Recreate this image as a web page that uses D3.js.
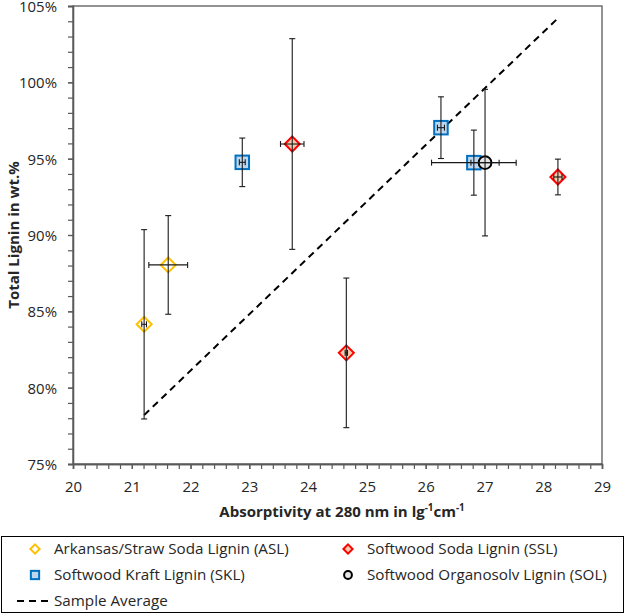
<!DOCTYPE html>
<html><head><meta charset="utf-8">
<script src="https://cdn.jsdelivr.net/npm/d3@7"></script>
<style>
body{margin:0;background:#fff;}
text{font-family:"Open Sans",Lato,sans-serif;fill:#262626;}
</style></head>
<body><svg id="c" width="625" height="614"></svg>
<script>
// ---- data ----
const xTicks = [20,21,22,23,24,25,26,27,28,29];
const yTicks = [75,80,85,90,95,100,105];
const aslX = [21.21, 21.62], aslY = [84.15, 88.04], aslXErr = [0.04, 0.33], aslYErr = [6.2, 3.23];
const sklX = [22.88, 26.26, 26.82], sklY = [94.76, 97.03, 94.74], sklXErr = [0.05, 0.06, 0.72], sklYErr = [1.59, 2.02, 2.13];
const sslX = [23.73, 24.65, 28.25], sslY = [95.96, 82.28, 93.8], sslXErr = [0.2, 0.02, 0.07], sslYErr = [6.9, 4.9, 1.17];
const solX = [27.01], solY = [94.74], solXErr = [0.24], solYErr = [4.8];
const avgX = [21.21, 28.25], avgY = [78.2, 104.2];
const legendLabels = ["Arkansas/Straw Soda Lignin (ASL)", "Softwood Soda Lignin (SSL)", "Softwood Kraft Lignin (SKL)", "Softwood Organosolv Lignin (SOL)", "Sample Average"];

const series = [
  {key:"ASL", xs:aslX, ys:aslY, xe:aslXErr, ye:aslYErr, shape:"diamond", stroke:"#FFC000", fill:"#FFFFFF"},
  {key:"SKL", xs:sklX, ys:sklY, xe:sklXErr, ye:sklYErr, shape:"square", stroke:"#0070C0", fill:"#BDD7EE"},
  {key:"SSL", xs:sslX, ys:sslY, xe:sslXErr, ye:sslYErr, shape:"diamond", stroke:"#FF0000", fill:"#F8CBAD"},
  {key:"SOL", xs:solX, ys:solY, xe:solXErr, ye:solYErr, shape:"circle", stroke:"#000000", fill:"#E7E6E6"}
];

const svg = d3.select("#c");
const L=73, R=602, T=6, B=464;
const x = d3.scaleLinear().domain([20,29]).range([L,R]);
const y = d3.scaleLinear().domain([75,105]).range([B,T]);

// font size fitted to a target width
function fitSize(text, weight, target){
  const t = svg.append("text").attr("font-size",20).attr("font-weight",weight).text(text);
  const w = t.node().getComputedTextLength(); t.remove();
  return 20*target/w;
}
const tickFs = fitSize("105%","normal",38);
const legFs = fitSize(legendLabels[0],"normal",235);
const titleFs = fitSize("Absorptivity at 280 nm in lg-1cm-1","bold",255);

// plot border
svg.append("rect").attr("x",L).attr("y",T).attr("width",R-L).attr("height",B-T)
  .attr("fill","none").attr("stroke","#595959").attr("stroke-width",1.3);

// minor ticks
const xMinor = d3.range(20,29.001,0.2);
const yMinor = d3.range(75,105.001,1);
const gx = svg.append("g").attr("transform",`translate(0,${B})`)
  .call(d3.axisBottom(x).tickValues(xMinor).tickSize(5).tickFormat(""));
const gy = svg.append("g").attr("transform",`translate(${L},0)`)
  .call(d3.axisLeft(y).tickValues(yMinor).tickSize(5).tickFormat(""));
const gx2 = svg.append("g").attr("transform",`translate(0,${B})`)
  .call(d3.axisBottom(x).tickValues(xTicks).tickSize(5).tickPadding(12).tickFormat(d=>d));
const gy2 = svg.append("g").attr("transform",`translate(${L},0)`)
  .call(d3.axisLeft(y).tickValues(yTicks).tickSize(5).tickPadding(11).tickFormat(d=>d+"%"));
[gx,gy,gx2,gy2].forEach(g=>{
  g.selectAll(".domain").attr("stroke","#595959").attr("stroke-width",1.3);
  g.selectAll(".tick line").attr("stroke","#595959").attr("stroke-width",1.2);
  g.selectAll("text").style("font-family","'Open Sans', sans-serif").attr("font-size",tickFs).attr("fill","#262626");
});
gy2.selectAll("text").attr("dy","0.36em");

// axis titles
svg.append("text").attr("transform",`translate(19,${(T+B)/2}) rotate(-90)`)
  .attr("text-anchor","middle").attr("font-weight","bold").attr("font-size",titleFs)
  .text("Total Lignin in wt.%");
const xt = svg.append("text").attr("x",342).attr("y",517).attr("text-anchor","middle")
  .attr("font-weight","bold").attr("font-size",titleFs);
xt.append("tspan").text("Absorptivity at 280 nm in lg");
xt.append("tspan").attr("font-size",titleFs*0.65).attr("dy",-6).text("-1");
xt.append("tspan").attr("dy",6).text("cm");
xt.append("tspan").attr("font-size",titleFs*0.65).attr("dy",-6).text("-1");

// average line
svg.append("line").attr("x1",x(avgX[0])).attr("y1",y(avgY[0])).attr("x2",x(avgX[1])).attr("y2",y(avgY[1]))
  .attr("stroke","#000").attr("stroke-width",2).attr("stroke-dasharray","7,5");

function marker(g, shape, cx, cy, s, stroke, fill, sw){
  if(shape==="diamond"){
    g.append("path").attr("d",`M${cx},${cy-s} L${cx+s},${cy} L${cx},${cy+s} L${cx-s},${cy} Z`)
      .attr("fill",fill).attr("stroke",stroke).attr("stroke-width",sw);
  } else if(shape==="square"){
    const h=s*0.9;
    g.append("rect").attr("x",cx-h).attr("y",cy-h).attr("width",2*h).attr("height",2*h)
      .attr("fill",fill).attr("stroke",stroke).attr("stroke-width",sw);
  } else {
    g.append("circle").attr("cx",cx).attr("cy",cy).attr("r",s*0.85)
      .attr("fill",fill).attr("stroke",stroke).attr("stroke-width",sw);
  }
}

const gm = svg.append("g"), ge = svg.append("g");
series.forEach(s=>{
  s.xs.forEach((xv,i)=>{
    const cx=x(xv), cy=y(s.ys[i]);
    marker(gm, s.shape, cx, cy, 7.5, s.stroke, s.fill, 2);
    const y1=y(s.ys[i]+s.ye[i]), y2=y(s.ys[i]-s.ye[i]);
    const x1=x(xv-s.xe[i]), x2=x(xv+s.xe[i]);
    const ln=(a,b,c,d)=>ge.append("line").attr("x1",a).attr("y1",b).attr("x2",c).attr("y2",d)
      .attr("stroke","#1a1a1a").attr("stroke-width",1.1);
    ln(cx,y1,cx,y2); ln(cx-3,y1,cx+3,y1); ln(cx-3,y2,cx+3,y2);
    ln(x1,cy,x2,cy); ln(x1,cy-3,x1,cy+3); ln(x2,cy-3,x2,cy+3);
  });
});

// legend
svg.append("rect").attr("x",1.5).attr("y",536.5).attr("width",622).attr("height",76)
  .attr("fill","#fff").attr("stroke","#000").attr("stroke-width",1);
const leg = [
  {s:series[0], lx:35, tx:54, cy:549, label:legendLabels[0]},
  {s:series[2], lx:348, tx:367, cy:549, label:legendLabels[1]},
  {s:series[1], lx:35, tx:54, cy:575, label:legendLabels[2]},
  {s:series[3], lx:348, tx:367, cy:575, label:legendLabels[3]},
];
const gl = svg.append("g");
leg.forEach(e=>{
  marker(gl, e.s.shape, e.lx, e.cy, 4.6, e.s.stroke, e.s.fill, 2);
  gl.append("text").attr("x",e.tx).attr("y",e.cy).attr("dy","0.35em").attr("font-size",legFs).text(e.label);
});
gl.append("line").attr("x1",17).attr("x2",51).attr("y1",601).attr("y2",601)
  .attr("stroke","#000").attr("stroke-width",2).attr("stroke-dasharray","7,5");
gl.append("text").attr("x",54).attr("y",601).attr("dy","0.35em").attr("font-size",legFs).text(legendLabels[4]);
</script></body></html>
